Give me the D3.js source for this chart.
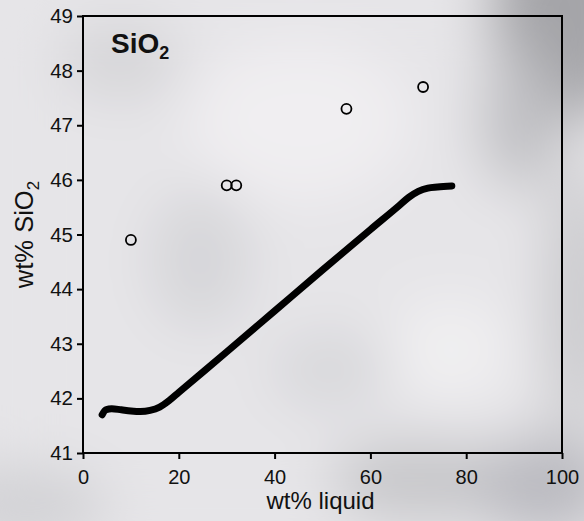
<!DOCTYPE html>
<html>
<head>
<meta charset="utf-8">
<script src="https://cdn.jsdelivr.net/npm/d3@7"></script>
<style>
  body { margin: 0; background: #e6e5e8; }
  svg { display: block; }
  .axis text { font-family: "Liberation Sans", Arial, sans-serif; fill: #111; }
  .axis path, .axis line { stroke: #000; stroke-width: 2; }
</style>
</head>
<body>
<svg id="chart" width="584" height="521"></svg>
<script>
// melt curve (model) and measured glass compositions
const curveLiquid = [4, 4.8, 6, 8, 10, 12, 14, 16, 18, 20, 30, 40, 50, 60, 66, 68, 70, 72, 74, 77];
const curveSiO2 = [41.70, 41.79, 41.81, 41.79, 41.77, 41.76, 41.78, 41.84, 41.96, 42.11, 42.85, 43.60, 44.35, 45.09, 45.53, 45.68, 45.79, 45.85, 45.87, 45.89];
const pointLiquid = [10, 30, 32, 55, 71];
const pointSiO2 = [44.9, 45.9, 45.9, 47.3, 47.7];
const xTicks = [0, 20, 40, 60, 80, 100];
const yTicks = [41, 42, 43, 44, 45, 46, 47, 48, 49];

const svg = d3.select('#chart');
const margin = { top: 16, right: 22, bottom: 68, left: 83 };
const width = +svg.attr('width') - margin.left - margin.right;
const height = +svg.attr('height') - margin.top - margin.bottom;

// cloudy background
const defs = svg.append('defs');
defs.append('filter').attr('id', 'blur')
  .attr('x', '-50%').attr('y', '-50%').attr('width', '200%').attr('height', '200%')
  .append('feGaussianBlur').attr('stdDeviation', 28);

const bg = svg.append('g').attr('filter', 'url(#blur)');
bg.append('rect').attr('width', 584).attr('height', 521).attr('fill', '#e6e5e8');
const clouds = [
  [565, 15, 75, 110, '#a4a4a8'],
  [520, 120, 40, 70, '#bfbfc3'],
  [578, 300, 30, 140, '#c6c6c9'],
  [420, 480, 90, 40, '#c6c6c9'],
  [545, 485, 70, 50, '#babac0'],
  [20, 505, 90, 40, '#d2d2d5'],
  [200, 260, 50, 70, '#d6d6d9'],
  [330, 370, 60, 40, '#d8d8db'],
  [300, 120, 110, 80, '#f0eef1'],
  [450, 350, 60, 50, '#f0eff1'],
  [120, 60, 60, 40, '#d6d5d8'],
];
bg.selectAll('ellipse').data(clouds).join('ellipse')
  .attr('cx', d => d[0]).attr('cy', d => d[1])
  .attr('rx', d => d[2]).attr('ry', d => d[3])
  .attr('fill', d => d[4]);

const g = svg.append('g').attr('transform', `translate(${margin.left},${margin.top})`);

const x = d3.scaleLinear().domain([0, 100]).range([0, width]);
const y = d3.scaleLinear().domain([41, 49]).range([height, 0]);

// frame
g.append('rect')
  .attr('width', width).attr('height', height)
  .attr('fill', 'none').attr('stroke', '#000').attr('stroke-width', 2);

g.append('g')
  .attr('class', 'axis')
  .attr('transform', `translate(0,${height})`)
  .call(d3.axisBottom(x).tickValues(xTicks).tickSize(6).tickSizeOuter(0).tickPadding(11))
  .call(a => a.select('.domain').remove())
  .call(a => a.selectAll('text').attr('font-size', 20));

g.append('g')
  .attr('class', 'axis')
  .call(d3.axisLeft(y).tickValues(yTicks).tickSize(6).tickSizeOuter(0).tickPadding(4))
  .call(a => a.select('.domain').remove())
  .call(a => a.selectAll('text').attr('font-size', 20.5));

// model curve
const curve = curveLiquid.map((v, i) => [v, curveSiO2[i]]);
g.append('path')
  .datum(curve)
  .attr('fill', 'none')
  .attr('stroke', '#000')
  .attr('stroke-width', 7)
  .attr('stroke-linecap', 'round')
  .attr('stroke-linejoin', 'round')
  .attr('d', d3.line().x(d => x(d[0])).y(d => y(d[1])).curve(d3.curveMonotoneX));

// measured points
g.selectAll('circle')
  .data(pointLiquid.map((v, i) => [v, pointSiO2[i]]))
  .join('circle')
  .attr('cx', d => x(d[0]))
  .attr('cy', d => y(d[1]))
  .attr('r', 5)
  .attr('fill', 'none')
  .attr('stroke', '#000')
  .attr('stroke-width', 1.8);

// panel title
const title = g.append('text')
  .attr('x', 28).attr('y', 37)
  .attr('font-family', '"Liberation Sans", Arial, sans-serif')
  .attr('font-weight', 'bold').attr('font-size', 28)
  .attr('fill', '#111')
  .text('SiO');
title.append('tspan').attr('dy', 6).attr('font-size', 18).text('2');

// axis labels
svg.append('text')
  .attr('x', margin.left + width / 2 - 2).attr('y', 509)
  .attr('text-anchor', 'middle')
  .attr('font-family', '"Liberation Sans", Arial, sans-serif')
  .attr('font-size', 24).attr('fill', '#111')
  .text('wt% liquid');

const ylab = svg.append('text')
  .attr('transform', `translate(33,${margin.top + height / 2}) rotate(-90)`)
  .attr('text-anchor', 'middle')
  .attr('font-family', '"Liberation Sans", Arial, sans-serif')
  .attr('font-size', 25.5).attr('fill', '#111')
  .text('wt% SiO');
ylab.append('tspan').attr('dy', 6).attr('font-size', 17).text('2');
</script>
</body>
</html>
